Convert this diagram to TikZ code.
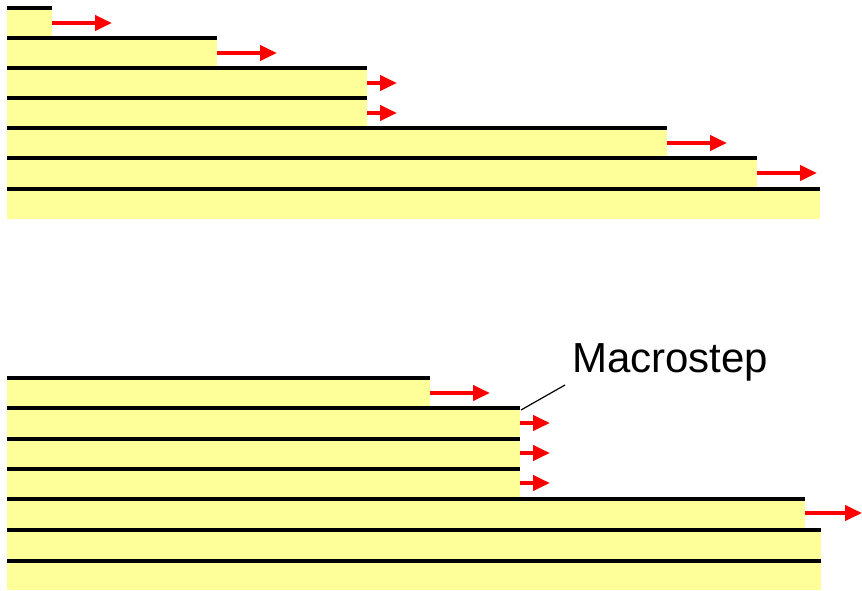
\documentclass[tikz,border=0pt]{standalone}
\usepackage{fontspec}
\setmainfont{Liberation Sans}
\usetikzlibrary{arrows.meta}
\definecolor{layeryellow}{RGB}{255,255,153}
\begin{document}
\begin{tikzpicture}[x=1pt,y=-1pt,
  layerfill/.style={fill=layeryellow},
  edgeline/.style={line width=4pt},
  movearrow/.style={red, line width=4pt, -{Triangle[length=17pt,width=15pt]}},
  leader/.style={black, line width=1.2pt}]
\useasboundingbox (0,0) rectangle (862,591);
% top: regular steps
\foreach \t/\b/\r in {8/38/52, 38/68/217, 68/98/367, 98/128/367, 128/158/667, 158/189/757, 189/219/820}{
  \fill[layerfill] (7,\t) rectangle (\r,\b);
  \draw[edgeline] (7,\t) -- (\r,\t);
}
\foreach \y/\a/\e in {23/52/112, 53/217/277, 83/367/397, 113/367/397, 143/667/727, 173/757/817}{
  \draw[movearrow] (\a,\y) -- (\e,\y);
}
% bottom: macrostep
\foreach \t/\b/\r in {378/408/430, 408/438.5/520, 438.5/469/520, 469/499/520, 499/530/805, 530/560.5/821, 560.5/590/821}{
  \fill[layerfill] (7,\t) rectangle (\r,\b);
  \draw[edgeline] (7,\t) -- (\r,\t);
}
\foreach \y/\a/\e in {393/430/490, 423/520/550, 453/520/550, 483/520/550, 513/805/862}{
  \draw[movearrow] (\a,\y) -- (\e,\y);
}
\node[anchor=base west, inner sep=0pt, font=\fontsize{42}{50}\selectfont] (macro) at (572,372) {Macrostep};
\coordinate (stepedge) at (521,410);
\coordinate (labelfoot) at (565,385);
\draw[leader] (stepedge) -- (labelfoot);
\end{tikzpicture}
\end{document}
